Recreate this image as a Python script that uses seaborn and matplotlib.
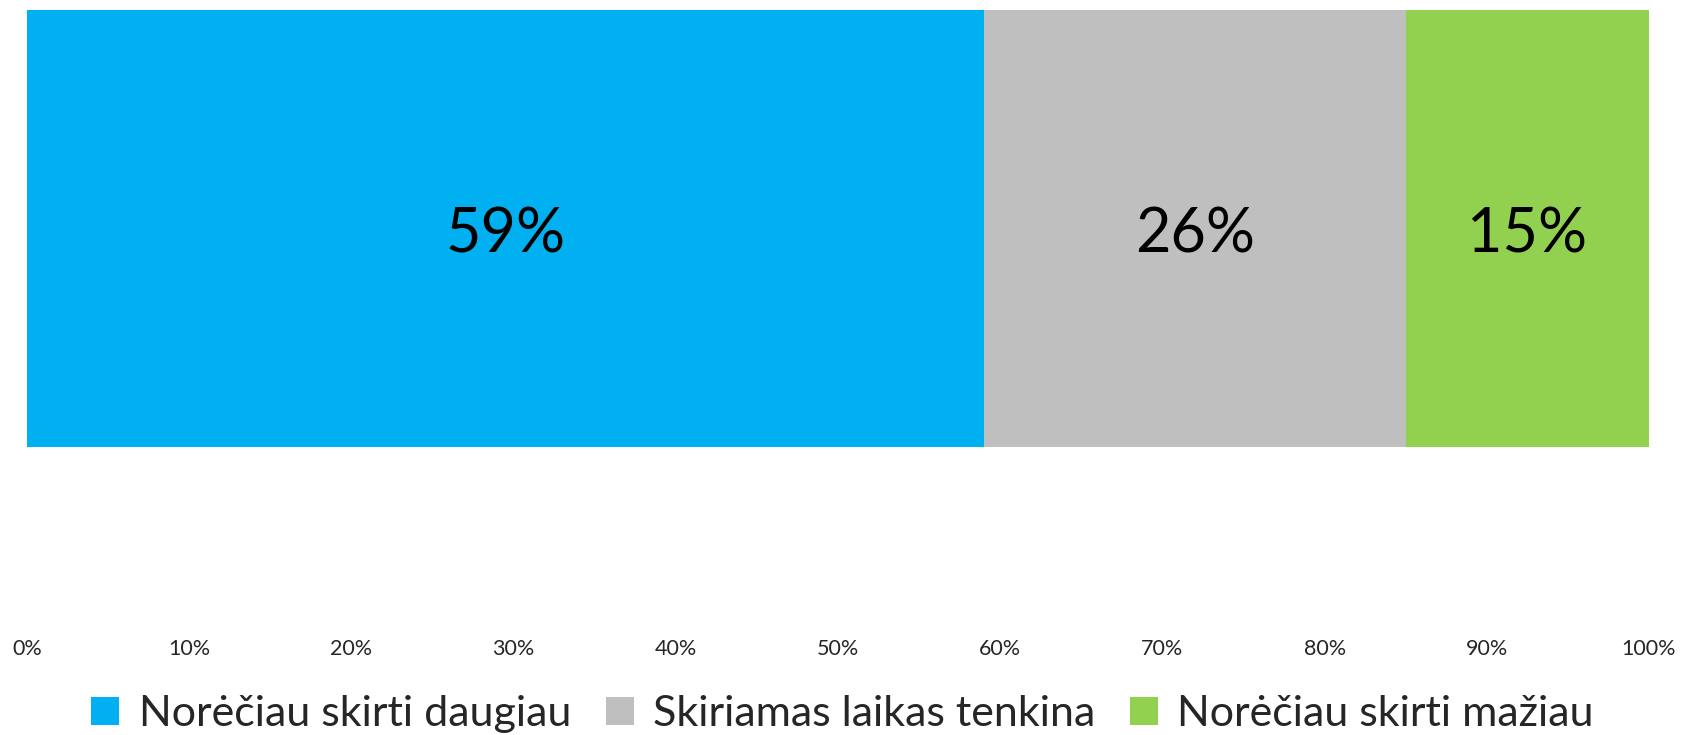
import matplotlib
matplotlib.use("Agg")
import matplotlib.pyplot as plt
import seaborn as sns
import numpy as np
import pandas as pd
from matplotlib.patches import Patch

categories = ["Norėčiau skirti daugiau", "Skiriamas laikas tenkina", "Norėčiau skirti mažiau"]
values = [59, 26, 15]
colors = ["#00B0F0", "#BFBFBF", "#92D050"]
tick_values = [0, 10, 20, 30, 40, 50, 60, 70, 80, 90, 100]
tick_labels = [f"{v}%" for v in tick_values]

sns.set_theme(style="white")
plt.rcParams['font.family'] = ['Lato', 'DejaVu Sans']

W, H = 1685, 735
fig = plt.figure(figsize=(W / 100, H / 100), dpi=100)
ax = fig.add_axes([27 / W, 1 - 447 / H, (1649 - 27) / W, (447 - 10) / H])

cum = np.cumsum(values)
starts = cum - np.array(values)
# draw cumulative bars from largest to smallest so they stack visually
for i in reversed(range(len(values))):
    df = pd.DataFrame({"val": [cum[i]], "row": [""]})
    sns.barplot(data=df, x="val", y="row", orient="h", color=colors[i],
                width=1.0, saturation=1, ax=ax, edgecolor="none", linewidth=0)

for i, v in enumerate(values):
    ax.text(starts[i] + v / 2, 0.015, f"{v}%", ha="center", va="center",
            fontsize=44, color="black")

ax.set_xlim(0, 100)
ax.set_ylim(0.5, -0.5)
ax.set_xticks(tick_values)
ax.set_xticklabels(tick_labels, fontsize=15.5)
ax.tick_params(axis="x", length=0, pad=138)
ax.set_yticks([])
ax.set_xlabel("")
ax.set_ylabel("")
for s in ax.spines.values():
    s.set_visible(False)

handles = [Patch(facecolor=c, edgecolor="none") for c in colors]
fig.legend(handles, categories, loc="center", bbox_to_anchor=(0.5, 1 - 714 / H),
           ncol=3, frameon=False, fontsize=31, handlelength=0.65, handleheight=0.65,
           handletextpad=0.45, columnspacing=0.8, borderaxespad=0)

fig.savefig("out.png", dpi=100)
